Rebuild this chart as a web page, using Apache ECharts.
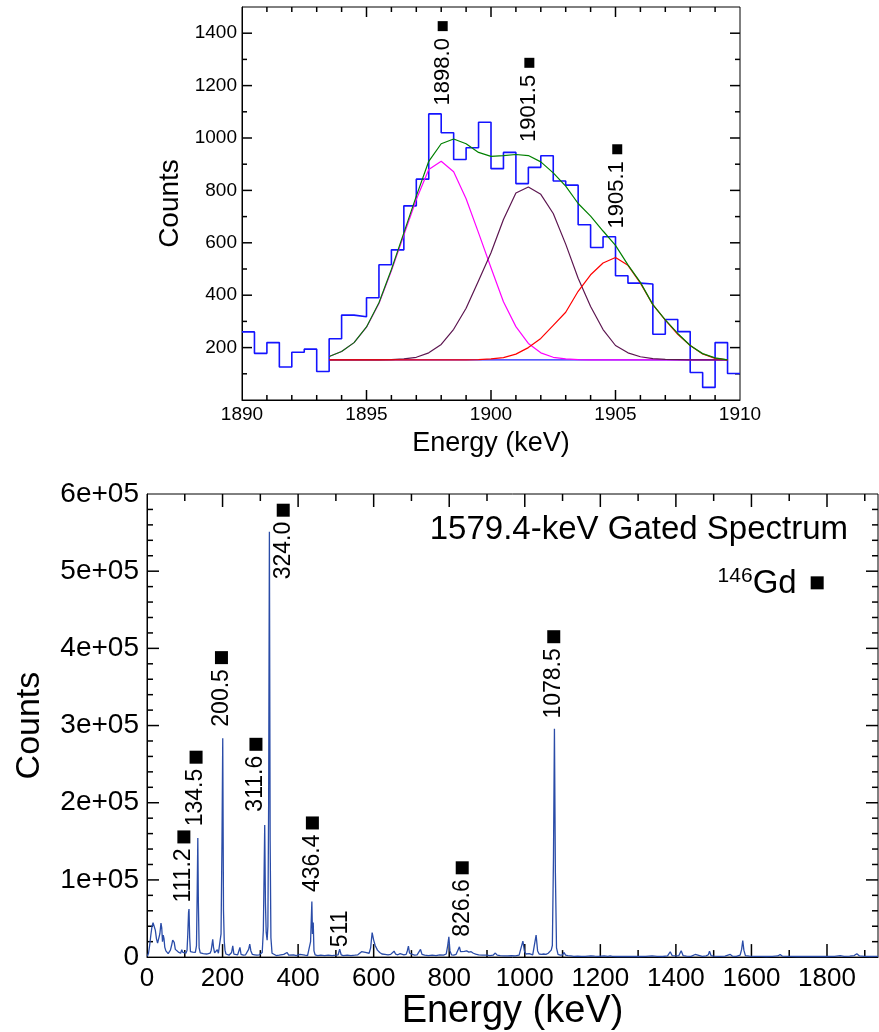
<!DOCTYPE html>
<html><head><meta charset="utf-8">
<script src="https://cdn.jsdelivr.net/npm/echarts@6/dist/echarts.min.js"></script>
<style>html,body{margin:0;padding:0;background:#fff}#c{width:879px;height:1032px}#err{position:absolute;left:0;top:440px;color:#c00;font:14px sans-serif;white-space:pre}</style>
</head><body><div id="c"></div><div id="err"></div>
<script>
window.onerror = function (m, s, l, c, e) { document.getElementById('err').textContent += 'ERR: ' + m + ' @' + l + '\n'; };
// ---------- Top panel: 1890-1910 keV region ----------
const histBinLow = [1890,1890.5,1891,1891.5,1892,1892.5,1893,1893.5,1894,1894.5,1895,1895.5,1896,1896.5,1897,1897.5,1898,1898.5,1899,1899.5,1900,1900.5,1901,1901.5,1902,1902.5,1903,1903.5,1904,1904.5,1905,1905.5,1906,1906.5,1907,1907.5,1908,1908.5,1909,1909.5];
const histUpperEdge = 1910;
const histCounts = [260,178,219,126,182,194,109,234,324,318,390,516,573,741,843,1092,1020,918,963,1060,883,945,826,888,932,836,820,669,582,623,474,446,443,251,307,261,105,48,219,101];
const fitEnergy = [1893.5,1894,1894.5,1895,1895.5,1896,1896.5,1897,1897.5,1898,1898.5,1899,1899.5,1900,1900.5,1901,1901.5,1902,1902.5,1903,1903.5,1904,1904.5,1905,1905.5,1906,1906.5,1907,1907.5,1908,1908.5,1909,1909.5];
const fitTotal = [166,185,219,279,371,498,638,778,911,978,996,978,945,930,933,937,933,909,867,816,750,702,645,590,516,449,364,306,254,208,177,161,153];
const fitPeak1898 = [166,185,219,278,368,493,630,765,880,911,871,768,638,505,375,280,216,180,163,157,154,153,153,153,153,153,153,153,153,153,153,153,153];
const fitPeak1901 = [153,153,153,153,153,154,157,163,180,212,270,350,455,562,689,790,813,785,712,595,465,357,269,208,180,165,158,155,154,153,153,153,153];
const fitPeak1905 = [153,153,153,153,153,153,153,153,153,153,153,153,154,157,162,175,200,235,285,335,415,478,523,544,514,446,364,305,251,208,176,159,153];
const fitBgEnergy = [1893.5,1909.5];
const fitBg = [153,153];
const topLabels = ['1898.0','1901.5','1905.1'];
const topMarkerE = [1898.06,1901.54,1905.07];
const topMarkerY = [1427,1287,957];

// ---------- Bottom panel: gated spectrum ----------
const spectrum = [
[1,1000],[4,5000],[7,15000],[10,28000],[13,39000],[16,44500],[19,43000],[22,35000],[25,24000],[28,18000],
[31,20000],[34,30000],[37,44000],[39,38000],[41,20000],[43,28500],[45,24000],[47,13000],[50,8000],[53,6000],
[56,4500],[59,6000],[62,9000],[65,15000],[68,22000],[70,24000],[72,19000],[75,10000],[78,9000],[80,11000],
[83,6500],[86,8000],[89,5000],[92,9500],[95,6000],[99,4500],[103,5000],[106,9000],[108,30000],[110,58000],
[111.2,62300],[113,25000],[115,7000],[118,5000],[121,6500],[125,4500],[128,6000],[131,15000],[133,90000],[134.5,154200],
[136,70000],[138,12000],[141,5500],[145,7000],[149,4500],[154,5500],[158,4000],[163,6000],[167,5000],[170,9000],
[172,16000],[174,23000],[176,13000],[179,5500],[183,6500],[186,9500],[189,5000],[193,6000],[196,30000],[198.5,150000],
[200.5,283500],[202.5,60000],[204.5,20600],[206.5,9000],[209,4000],[213,3000],[217,2500],[221,3500],[224,6000],[227,14600],
[230,4000],[235,2500],[240,3000],[243,5000],[246,12500],[249,3500],[255,2500],[261,3000],[265,4500],[269,10000],
[272,16800],[275,8000],[279,3500],[285,3000],[291,2500],[297,3000],[302,3500],[305,6000],[308,35000],[310,110000],
[311.6,171200],[313.5,70000],[315.5,32000],[318,22000],[320,40000],[322,200000],[324,551000],[326,150000],[328,25000],[331,5000],
[335,2500],[342,2000],[350,2500],[355,2000],[362,3500],[366,2000],[371,6000],[375,2500],[380,2000],[388,3000],
[395,2000],[400,2500],[405,3500],[410,2000],[418,2500],[425,2000],[430,4000],[433,20000],[436.4,72000],[438,30000],
[440,44700],[442,8000],[445,3000],[452,2000],[460,2500],[470,2000],[480,2500],[490,2000],[500,2500],[506,3000],
[510,10300],[514,3000],[520,2000],[530,2500],[540,2000],[550,2500],[558,3000],[563,5500],[568,7000],[573,5000],
[578,6000],[583,4000],[588,5000],[592,12000],[596,31800],[600,22000],[604,15000],[610,9000],[616,6000],[622,4000],
[630,3500],[638,3000],[645,3500],[650,5000],[654,7700],[658,4000],[664,3000],[670,4500],[675,4000],[680,3000],
[686,3500],[689,8000],[692,14200],[695,5000],[700,3000],[708,2500],[715,3000],[720,4000],[724,9900],[728,3500],
[735,2500],[745,2000],[755,2500],[765,2000],[775,3000],[785,2500],[792,4000],[796,15000],[799,26200],[802,8000],
[806,3000],[812,2500],[818,3500],[823,6000],[827,13300],[830,7000],[834,8500],[840,7500],[846,8000],[852,6500],
[858,7000],[864,5000],[870,4000],[878,3000],[888,2500],[898,2500],[908,2000],[916,2500],[922,5200],[927,2500],
[935,2000],[945,1500],[955,1500],[965,2000],[975,1500],[985,2500],[990,5000],[995,20600],[999,8000],[1003,4000],
[1007,3000],[1012,4500],[1016,2500],[1021,3000],[1026,5000],[1030,28400],[1034,8000],[1038,4000],[1044,3500],[1050,4000],
[1056,3500],[1062,5000],[1066,7000],[1070,9000],[1073,15000],[1076,130000],[1078.5,296000],[1081,110000],[1084,12000],[1088,3500],
[1094,2500],[1100,3000],[1104,6000],[1108,2500],[1114,2000],[1118,3400],[1122,1500],[1130,1000],[1140,1200],[1150,1000],
[1160,1000],[1175,1500],[1185,1200],[1195,1000],[1210,1500],[1220,1000],[1226,1700],[1232,1000],[1245,800],[1260,1000],
[1275,800],[1290,1000],[1305,800],[1320,1000],[1337,1600],[1350,900],[1365,800],[1378,1500],[1385,6900],[1390,2000],
[1400,1500],[1408,2000],[1414,8200],[1419,2000],[1428,1200],[1440,1000],[1451,3400],[1456,1200],[1470,1000],[1480,1500],
[1486,3000],[1489,7700],[1493,2000],[1500,1200],[1515,1000],[1530,1200],[1544,3400],[1550,1200],[1560,1000],[1570,2500],
[1574,10000],[1577,21500],[1580,9000],[1584,2000],[1595,1200],[1610,1000],[1625,1000],[1640,800],[1655,1000],[1670,1500],
[1676,3400],[1682,1200],[1700,900],[1720,800],[1740,1000],[1760,800],[1780,900],[1800,800],[1820,1000],[1835,1800],
[1845,1000],[1860,1200],[1872,2000],[1879,4300],[1886,1500],[1900,900],[1915,800],[1935,900]
];
const peakLabels = ['111.2','134.5','200.5','311.6','324.0','436.4','511','826.6','1078.5'];
const peakMarkerE = [97.6,129.9,197.1,288.4,360.6,437.8,512.7,834.4,1076.7];
const peakMarkerY = [155700,259000,388000,275700,579000,173800,60300,115700,415100];
const peakHasMarker = [true,true,true,true,true,true,false,true,true];
const nucleusMarkerE = 1774;
const nucleusMarkerY = 484900;
const titleText = '1579.4-keV Gated Spectrum';

// axis ranges / tick steps
const topX = {min: 1890, max: 1910, major: 5, minor: 1};
const topY = {min: 0, max: 1500, major: 200, minor: 100};
const botX = {min: 0, max: 1935, major: 200, minor: 100};
const botY = {min: 0, max: 600000, major: 100000, minor: 20000};

const FONT = '"Liberation Sans", Arial, Helvetica, sans-serif';
const chart = echarts.init(document.getElementById('c'));
const plain = v => String(v);

function baseAxis(extra) {
  return Object.assign({
    type: 'value',
    axisLine: {show: true, onZero: false, lineStyle: {color: '#000', width: 1}},
    axisTick: {show: false},
    splitLine: {show: false},
    axisLabel: {show: false}
  }, extra);
}

const histData = histBinLow.map((e, i) => [e, histCounts[i]]);
histData.push([histUpperEdge, histCounts[histCounts.length - 1]]);
const toPairs = (xs, ys) => xs.map((x, i) => [x, ys[i]]);

try {
chart.setOption({
  animation: false,
  grid: [
    {left: 242, top: 7, width: 498, height: 393, show: true, borderColor: '#000', borderWidth: 1, backgroundColor: 'transparent'},
    {left: 147, top: 494, width: 731, height: 465, show: true, borderColor: '#000', borderWidth: 1, backgroundColor: 'transparent'}
  ],
  xAxis: [
    baseAxis({gridIndex: 0, position: 'bottom', min: topX.min, max: topX.max, interval: topX.major,
      axisLabel: {show: true, fontSize: 19, color: '#000', margin: 5, fontFamily: FONT, formatter: plain},
      name: 'Energy (keV)', nameLocation: 'middle', nameGap: 30,
      nameTextStyle: {fontSize: 27, color: '#000', fontFamily: FONT}}),
    baseAxis({gridIndex: 1, position: 'bottom', min: botX.min, max: botX.max, interval: botX.major,
      axisLabel: {show: true, fontSize: 26, color: '#000', margin: 9, showMaxLabel: false, fontFamily: FONT, formatter: plain},
      name: 'Energy (keV)', nameLocation: 'middle', nameGap: 35,
      nameTextStyle: {fontSize: 38, color: '#000', fontFamily: FONT}})
  ],
  yAxis: [
    baseAxis({gridIndex: 0, position: 'left', min: topY.min, max: topY.max, interval: topY.major,
      axisLabel: {show: true, fontSize: 19, color: '#000', margin: 5, showMinLabel: false, showMaxLabel: false, fontFamily: FONT, formatter: plain},
      name: 'Counts', nameLocation: 'middle', nameGap: 56,
      nameTextStyle: {fontSize: 28, color: '#000', fontFamily: FONT}}),
    baseAxis({gridIndex: 1, position: 'left', min: botY.min, max: botY.max, interval: botY.major,
      axisLabel: {show: true, fontSize: 28, color: '#000', margin: 8, fontFamily: FONT,
        formatter: v => v === 0 ? '0' : (v / 100000) + 'e+05'},
      name: 'Counts', nameLocation: 'middle', nameGap: 100,
      nameTextStyle: {fontSize: 34, color: '#000', fontFamily: FONT}})
  ],
  series: [
    {type: 'line', name: 'data', xAxisIndex: 0, yAxisIndex: 0, step: 'end', data: histData,
      symbol: 'none', lineStyle: {color: '#1414ff', width: 1.6}, z: 2},
    {type: 'line', name: 'bg', xAxisIndex: 0, yAxisIndex: 0, data: toPairs(fitBgEnergy, fitBg),
      symbol: 'none', lineStyle: {color: '#2020ff', width: 1.2}, z: 3},
    {type: 'line', name: 'p1', xAxisIndex: 0, yAxisIndex: 0, data: toPairs(fitEnergy, fitPeak1898),
      symbol: 'none', lineStyle: {color: '#ff00ff', width: 1.2}, z: 4},
    {type: 'line', name: 'p2', xAxisIndex: 0, yAxisIndex: 0, data: toPairs(fitEnergy, fitPeak1901),
      symbol: 'none', lineStyle: {color: '#5c1650', width: 1.2}, z: 4},
    {type: 'line', name: 'p3', xAxisIndex: 0, yAxisIndex: 0, data: toPairs(fitEnergy, fitPeak1905),
      symbol: 'none', lineStyle: {color: '#ff0000', width: 1.2}, z: 4},
    {type: 'line', name: 'total', xAxisIndex: 0, yAxisIndex: 0, data: toPairs(fitEnergy, fitTotal),
      symbol: 'none', lineStyle: {color: '#008000', width: 1.2}, z: 5},
    {type: 'scatter', name: 'topMarks', xAxisIndex: 0, yAxisIndex: 0,
      data: toPairs(topMarkerE, topMarkerY), symbol: 'rect', symbolSize: 10,
      itemStyle: {color: '#000', opacity: 1},
      label: {show: true, position: 'bottom', distance: 7, rotate: 90, align: 'right', verticalAlign: 'middle',
        fontSize: 22, color: '#000', fontFamily: FONT, formatter: p => topLabels[p.dataIndex]}, z: 6},
    {type: 'line', name: 'spectrum', xAxisIndex: 1, yAxisIndex: 1, data: spectrum,
      symbol: 'none', lineStyle: {color: '#2a4ca8', width: 1.3}, z: 2},
    {type: 'scatter', name: 'peakMarks', xAxisIndex: 1, yAxisIndex: 1,
      data: peakMarkerE.map((e, i) => ({value: [e, peakMarkerY[i]], symbolSize: peakHasMarker[i] ? 13 : 0,
        label: {distance: peakHasMarker[i] ? 5 : 0}})),
      symbol: 'rect', itemStyle: {color: '#000', opacity: 1},
      label: {show: true, position: 'bottom', rotate: 90, align: 'right', verticalAlign: 'middle',
        fontSize: 23, color: '#000', fontFamily: FONT, formatter: p => peakLabels[p.dataIndex]}, z: 6},
    {type: 'scatter', name: 'nucleus', xAxisIndex: 1, yAxisIndex: 1,
      data: [[nucleusMarkerE, nucleusMarkerY]], symbol: 'rect', symbolSize: 13, itemStyle: {color: '#000', opacity: 1},
      label: {show: true, position: 'left', distance: 14, formatter: '{sup|146}{gd|Gd}',
        rich: {sup: {fontSize: 21, color: '#000', fontFamily: FONT, verticalAlign: 'top', padding: [0, 0, 14, 0]},
               gd: {fontSize: 33, color: '#000', fontFamily: FONT, verticalAlign: 'bottom'}}}, z: 6}
  ]
});
} catch (e) { document.getElementById('err').textContent += 'setOption1: ' + e.message + '\n'; }

// Ticks on all four sides, placed through the axes' own scales
function tickLines(axIdx, ax, ay, lens) {
  const out = [];
  const xL = chart.convertToPixel({xAxisIndex: axIdx}, ax.min);
  const xR = chart.convertToPixel({xAxisIndex: axIdx}, ax.max);
  const yB = chart.convertToPixel({yAxisIndex: axIdx}, ay.min);
  const yT = chart.convertToPixel({yAxisIndex: axIdx}, ay.max);
  const isMajor = (v, a) => { const r = (v - a.min) / a.major; return Math.abs(r - Math.round(r)) < 1e-6; };
  const mk = (x1, y1, x2, y2) => ({type: 'line', shape: {x1: x1, y1: y1, x2: x2, y2: y2},
    style: {stroke: '#000000', lineWidth: 1.5}});
  for (let k = 1; ax.min + k * ax.minor < ax.max - 1e-9; k++) {
    const v = +(ax.min + k * ax.minor).toFixed(6);
    const x = chart.convertToPixel({xAxisIndex: axIdx}, v);
    const len = isMajor(v, ax) ? lens.xMajor : lens.xMinor;
    out.push(mk(x, yB, x, yB - len));
    out.push(mk(x, yT, x, yT + len));
  }
  for (let k = 1; ay.min + k * ay.minor < ay.max - 1e-9; k++) {
    const v = +(ay.min + k * ay.minor).toFixed(6);
    const y = chart.convertToPixel({yAxisIndex: axIdx}, v);
    const len = isMajor(v, ay) ? lens.yMajor : lens.yMinor;
    out.push(mk(xL, y, xL + len, y));
    out.push(mk(xR, y, xR - len, y));
  }
  return out;
}
try {
  const graphics = []
    .concat(tickLines(0, topX, topY, {xMajor: 10, xMinor: 5, yMajor: 10, yMinor: 5}))
    .concat(tickLines(1, botX, botY, {xMajor: 13, xMinor: 7, yMajor: 12, yMinor: 6}));
  graphics.push({type: 'text', right: 31, top: 513,
    style: {text: titleText, fill: '#000', font: '33px ' + FONT}});
  chart.setOption({graphic: graphics});
} catch (e) { document.getElementById('err').textContent += 'ticks: ' + e.message + '\n'; }
</script></body></html>
